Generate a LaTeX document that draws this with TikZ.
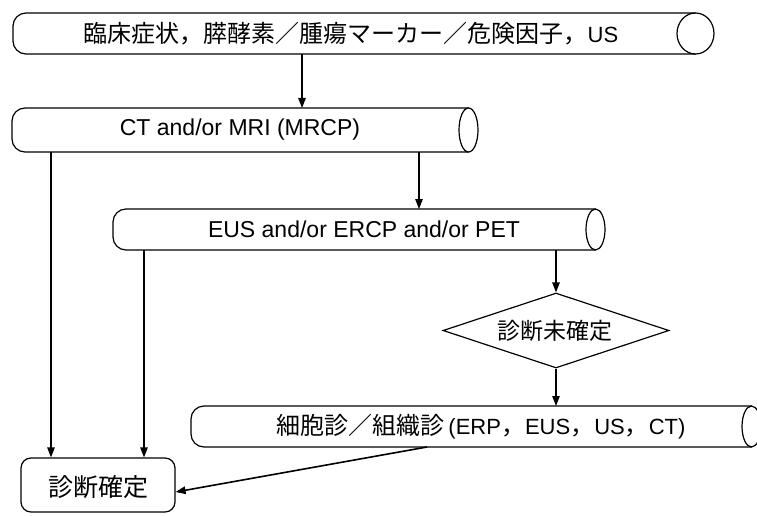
\documentclass[tikz,border=0pt]{standalone}
\usepackage{fontspec}
\setmainfont{Liberation Sans}
\newfontfamily\jp{Noto Sans CJK JP}
\usetikzlibrary{shapes.geometric,arrows.meta}
\newcommand\jpsz{\fontsize{24pt}{28pt}\selectfont\jp}
\newcommand\lasz{\fontsize{22pt}{26pt}\selectfont\rmfamily}
% outline of a pipe: node name, right ellipse x radius, half height
\newcommand\pipeout[3]{%
  \draw[ln, rounded corners=13pt] ([xshift=-#2pt]#1.north east) -- (#1.north west) -- (#1.south west) -- ([xshift=-#2pt]#1.south east);
  \draw[ln] ([xshift=-#2pt]#1.east) ellipse[x radius=#2pt, y radius=#3pt];
}
\tikzset{
  ln/.style={line width=1.2pt, draw=black},
  body/.style={rectangle, draw=none, inner sep=0pt, outer sep=0pt},
  arr/.style={line width=1.2pt, -{Triangle[length=10pt,width=7.5pt]}},
  lab/.style={inner sep=0pt, outer sep=0pt, text=black},
}
\begin{document}
\begin{tikzpicture}[x=1pt,y=-1pt]
\useasboundingbox (0,0) rectangle (757,516);
\clip (0,0) rectangle (757,516);
\fill[white] (0,0) rectangle (757,516);

% bodies
\node[body, minimum width=701pt, minimum height=41pt] (b1) at (363.5,33.5) {};
\node[body, minimum width=466pt, minimum height=44pt] (b2) at (245,130) {};
\node[body, minimum width=492pt, minimum height=41pt] (b3) at (359,229.5) {};
\node[body, minimum width=570pt, minimum height=41pt] (b4) at (476,426.5) {};
\node[rectangle, rounded corners=10pt, ln, inner sep=0pt, minimum width=154pt, minimum height=54pt] (b5) at (98,485) {};
\node[diamond, ln, inner sep=0pt, aspect=3, minimum width=226pt, minimum height=75pt] (d) at (556,330.5) {};

\pipeout{b1}{18.5}{20.5}
\pipeout{b2}{9.5}{22}
\pipeout{b3}{9.5}{20.5}
\pipeout{b4}{9.5}{20.5}

% texts
\node[lab] (t1) at (351,33.5) {\jpsz 臨床症状，膵酵素／腫瘍マーカー／危険因子，{\lasz US}};
\node[lab] (t2) at (240,130) {\fontsize{23pt}{27pt}\selectfont CT and/or MRI (MRCP)};
\node[lab] (t3) at (364,229.5) {\fontsize{23pt}{27pt}\selectfont EUS and/or ERCP and/or PET};
\node[lab] (t4) at (481,426.5) {\jpsz 細胞診／組織診\hspace{4pt}{\lasz (ERP}，{\lasz EUS}，{\lasz US}，{\lasz CT)}};
\node[lab] (t5) at (555,330.5) {\fontsize{23pt}{27pt}\selectfont\jp 診断未確定};
\node[lab] (t6) at (98,487) {\fontsize{25pt}{29pt}\selectfont\jp 診断確定};

% helper columns
\coordinate (c51) at (51,0);
\coordinate (c144) at (144,0);
\coordinate (c302) at (302,0);
\coordinate (c419) at (419,0);
\coordinate (c427) at (427,0);
\coordinate (r492) at (0,492);

% connectors
\draw[arr] (b1.south -| c302) -- (b2.north -| c302);
\draw[arr] (b2.south -| c419) -- (b3.north -| c419);
\draw[arr] (b2.south -| c51) -- (b5.north -| c51);
\draw[arr] (b3.south -| c144) -- (b5.north -| c144);
\draw[arr] (b3.south -| d.north) -- (d.north);
\draw[arr] (d.south) -- (b4.north -| d.south);
\draw[arr, line width=1.6pt] (b4.south -| c427) -- (b5.east |- r492);
\end{tikzpicture}
\end{document}
